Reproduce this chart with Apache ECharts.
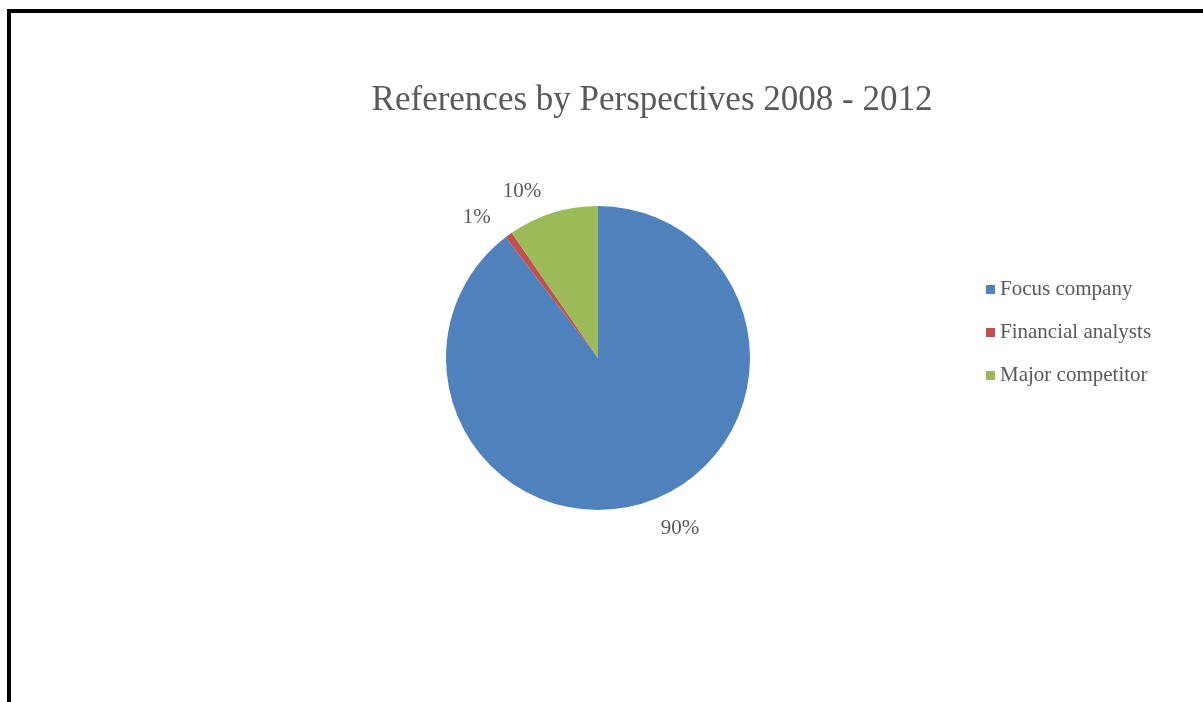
<!DOCTYPE html>
<html>
<head>
<meta charset="utf-8">
<title>References by Perspectives 2008 - 2012</title>
<script src="https://cdn.jsdelivr.net/npm/echarts@6/dist/echarts.min.js"></script>
<style>
  html, body { margin: 0; padding: 0; background: #fff; }
  #frame {
    position: absolute;
    left: 7px;
    top: 9px;
    width: 1196px;
    height: 693px;
    border-left: 4px solid #000;
    border-top: 4px solid #000;
    box-sizing: border-box;
  }
  #chart { position: absolute; left: 0; top: 0; width: 1203px; height: 702px; }
</style>
</head>
<body>
<div id="frame"></div>
<div id="chart"></div>
<script>
(function() {
  'use strict';

  var categories = ['Focus company', 'Financial analysts', 'Major competitor'];
  var shares = [89.6, 0.8, 9.6];
  var colors = ['#4F81BD', '#C0504D', '#9BBB59'];
  var labelGaps = [28, 22, 22];

  var ink = '#595959';
  var serif = '"Liberation Serif", "Times New Roman", serif';

  var chart = echarts.init(document.getElementById('chart'), null, { renderer: 'canvas' });

  var data = categories.map(function(name, i) {
    return {
      name: name,
      value: shares[i],
      itemStyle: { color: colors[i] },
      labelLine: { show: false, length: labelGaps[i], length2: 0 }
    };
  });

  var option = {
    animation: false,
    backgroundColor: 'transparent',
    title: {
      text: 'References by Perspectives 2008 - 2012',
      left: 647,
      top: 78,
      textAlign: 'center',
      textStyle: {
        color: ink,
        fontFamily: serif,
        fontWeight: 'normal',
        fontSize: 35
      }
    },
    legend: {
      orient: 'vertical',
      left: 981,
      top: 274,
      icon: 'rect',
      itemWidth: 9,
      itemHeight: 9,
      itemGap: 22,
      data: categories,
      textStyle: {
        color: ink,
        fontFamily: serif,
        fontSize: 21
      }
    },
    series: [{
      type: 'pie',
      center: [598, 358],
      radius: 152,
      startAngle: 90,
      clockwise: true,
      avoidLabelOverlap: false,
      data: data,
      label: {
        show: true,
        position: 'outside',
        color: ink,
        fontFamily: serif,
        fontSize: 21,
        formatter: function(p) {
          return Math.round(p.percent) + '%';
        }
      },
      labelLine: {
        show: false,
        length: 22,
        length2: 0
      },
      emphasis: { disabled: true }
    }]
  };

  chart.setOption(option);

  window.addEventListener('resize', function() {
    chart && chart.resize();
  });
})();
</script>
</body>
</html>
